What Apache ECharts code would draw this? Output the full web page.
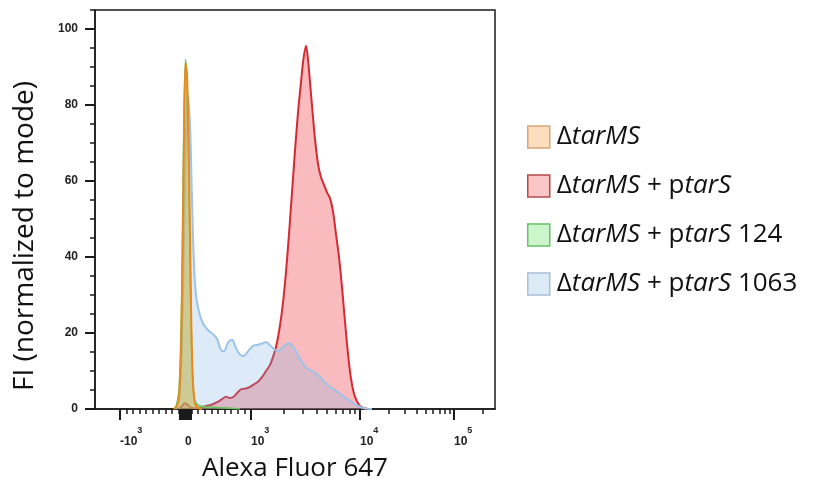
<!DOCTYPE html>
<html>
<head>
<meta charset="utf-8">
<script src="https://cdn.jsdelivr.net/npm/echarts@6/dist/echarts.min.js"></script>
<style>
html, body { margin: 0; padding: 0; background: #fff; }
#container { width: 815px; height: 482px; }
</style>
</head>
<body>
<div id="container"></div>
<script>
// x = display channel on the biexponential scale (0-1000), y = % of mode
var seriesNames = ['ΔtarMS', 'ΔtarMS + ptarS', 'ΔtarMS + ptarS 124', 'ΔtarMS + ptarS 1063'];

var tarMS = [[197.5,0],[205,0.8],[210,3],[215,15],[218.75,40],[222.5,72],[226.25,91],[230,88],[233.75,72],
  [237.5,45],[241.25,20],[245,7],[250,1.5],[257.5,0.3],[267.5,0]];

var tarMSptarS = [[210,0],[217.5,0.8],[225,1.5],[232.5,1],[242.5,0.3],[255,0.2],[265,0.4],[277.5,0.8],
  [292.5,1.2],[305,1.8],[317.5,2.6],[327.5,3.2],[337.5,2.9],[347.5,3.3],[357.5,4.5],[367.5,5.3],[377.5,5.4],
  [387.5,5.8],[397.5,6.5],[407.5,7.2],[417.5,8.4],[427.5,10],[437.5,11.6],[447.5,14.5],[455,17.5],[462.5,22],
  [470,28],[477.5,36],[485,46],[492.5,57],[500,68],[507.5,78],[515,86],[521,92],[527.5,95.6],[532.5,92],
  [537.5,86],[544,78],[550,71],[557.5,64.5],[565,61],[572.5,59],[580,57],[587.5,55.5],[595,52],[602.5,46],
  [610,40],[617.5,32],[625,23],[632.5,14.5],[640,8],[647.5,4],[655,2],[662.5,0.8],[672.5,0.2],[682.5,0]];

var ptarS124 = [[197.5,0],[203.75,1],[210,5],[215,20],[218.75,45],[222.5,78],[226.25,92],[230,86],[233.75,68],
  [237.5,42],[241.25,18],[245,6],[250,2],[262.5,0.8],[287.5,0.5],[325,0.3],[362.5,0]];

var ptarS1063 = [[202.5,0],[212.5,5],[220,30],[226,65],[231,83],[237.5,75],[242.5,55],[247.5,38],[252.5,30],
  [260,25.5],[270,22.5],[282.5,20.8],[295,19.7],[305,18.5],[315,15.5],[322.5,15.2],[332.5,17.5],[342.5,18.2],
  [352.5,16],[362.5,14.3],[372.5,14],[382.5,15.2],[395,16.6],[407.5,16.9],[420,17.3],[427.5,17.6],[437.5,16.8],
  [447.5,15.8],[457.5,15.2],[470,16.3],[482.5,17.3],[492.5,16.8],[502.5,15.2],[512.5,13.2],[525,11.2],
  [537.5,10.3],[550,9.5],[562.5,8.5],[575,7],[587.5,5.8],[602.5,4.8],[617.5,3.6],[632.5,2.5],[647.5,1.4],
  [662.5,0.6],[677.5,0.1],[692.5,0]];

// axis ticks (fluorescence values) and labels
var majorValues = [-1000, 0, 1000, 10000, 100000];
var labelBase = ['-10', '0', '10', '10', '10'];
var labelExp = ['3', '', '3', '4', '5'];
var zeroCluster = [-80, -60, -40, -20, 20, 40, 60, 80];
var minorValues = [-900, -800, -700, -600, -500, -400, -300, -200, -100,
  100, 200, 300, 400, 500, 600, 700, 800, 900,
  2000, 3000, 4000, 5000, 6000, 7000, 8000, 9000,
  20000, 30000, 40000, 50000, 60000, 70000, 80000, 90000, 200000];
var yTicks = [0, 20, 40, 60, 80, 100];
var yMinor = [5, 10, 15, 25, 30, 35, 45, 50, 55, 65, 70, 75, 85, 90, 95, 105];

// biexponential display: linear round 0, log above 10^3
function toChannel(v) {
    if (v < 0) return 225 + v * 0.1625;
    if (v <= 1000) return 225 + v * 0.165;
    if (v <= 10000) return 390 + Math.log10(v / 1000) * 272.5;
    return 662.5 + Math.log10(v / 10000) * 235;
}

var majorPos = majorValues.map(toChannel);
var majorTickPos = majorPos.concat(zeroCluster.map(toChannel));
var minorPos = minorValues.map(toChannel);

function xLabel(value) {
    for (var i = 0; i < majorPos.length; i++) {
        if (Math.abs(majorPos[i] - value) < 0.01) {
            return '{b|' + labelBase[i] + '}' + (labelExp[i] ? '{sup|' + labelExp[i] + '}' : '');
        }
    }
    return '';
}

var legendRich = {
    'ΔtarMS': '{n|Δ}{i|tarMS}',
    'ΔtarMS + ptarS': '{n|Δ}{i|tarMS}{n| + p}{i|tarS}',
    'ΔtarMS + ptarS 124': '{n|Δ}{i|tarMS}{n| + p}{i|tarS}{n| 124}',
    'ΔtarMS + ptarS 1063': '{n|Δ}{i|tarMS}{n| + p}{i|tarS}{n| 1063}'
};

function histSeries(name, data, line, fill, width, z) {
    return {
        name: name, type: 'line', data: data, z: z,
        smooth: 0.3, symbol: 'none', silent: true,
        lineStyle: { color: line, width: width },
        itemStyle: { color: line },
        areaStyle: { color: fill, opacity: 1 },
        emphasis: { disabled: true }
    };
}

var axisColor = '#1a1a1a';
var legendFont = 26;
var chart = echarts.init(document.getElementById('container'));

chart.setOption({
    animation: false,
    backgroundColor: '#fff',
    grid: {
        left: 95, right: 320, top: 10, bottom: 73, outerBoundsMode: 'none', containLabel: false,
        show: true, borderColor: axisColor, borderWidth: 1.5
    },
    xAxis: [{
        type: 'value', min: 0, max: 1000,
        name: 'Alexa Fluor 647', nameLocation: 'middle', nameGap: 47, nameMoveOverlap: false,
        nameTextStyle: { fontFamily: 'Open Sans', fontSize: 26, color: '#111' },
        axisLine: { onZero: false, lineStyle: { color: axisColor, width: 1.5 } },
        axisTick: { customValues: majorTickPos, length: 11, lineStyle: { color: axisColor, width: 2 } },
        axisLabel: {
            customValues: majorPos, formatter: xLabel, margin: 25, align: 'left',
            rich: {
                b: { fontFamily: 'Liberation Sans', fontWeight: 'bold', fontSize: 12, color: '#222', lineHeight: 14, verticalAlign: 'bottom' },
                sup: { fontFamily: 'Liberation Sans', fontWeight: 'bold', fontSize: 9, color: '#222', lineHeight: 10, verticalAlign: 'bottom', padding: [0, 0, 13, 0] }
            }
        },
        splitLine: { show: false }
    }, {
        type: 'value', min: 0, max: 1000, position: 'bottom',
        axisLine: { show: false },
        axisTick: { customValues: minorPos, length: 5, lineStyle: { color: axisColor, width: 1.5 } },
        axisLabel: { show: false },
        splitLine: { show: false }
    }],
    yAxis: [{
        type: 'value', min: 0, max: 105, position: 'left',
        axisLine: { show: true, lineStyle: { color: axisColor, width: 1.5 } },
        axisTick: { show: true, customValues: yTicks, length: 10, lineStyle: { color: axisColor, width: 2 } },
        axisLabel: { customValues: yTicks, margin: 17, fontFamily: 'Liberation Sans', fontWeight: 'bold', fontSize: 12, color: '#222' },
        splitLine: { show: false }
    }, {
        type: 'value', min: 0, max: 105, position: 'left',
        axisLine: { show: false },
        axisTick: { show: true, customValues: yMinor, length: 5, lineStyle: { color: axisColor, width: 1.5 } },
        axisLabel: { show: false },
        splitLine: { show: false }
    }],
    legend: {
        orient: 'vertical', left: 522, top: 118,
        itemWidth: 22, itemHeight: 22, itemGap: 21, icon: 'rect', selectedMode: false,
        data: [
            { name: seriesNames[0], itemStyle: { color: '#FCDDBE', borderColor: '#D7A57A', borderWidth: 1.5 } },
            { name: seriesNames[1], itemStyle: { color: '#F8C6C6', borderColor: '#B5484B', borderWidth: 1.5 } },
            { name: seriesNames[2], itemStyle: { color: '#CCF5CC', borderColor: '#66C266', borderWidth: 1.5 } },
            { name: seriesNames[3], itemStyle: { color: '#DDEBF7', borderColor: '#A8C0D8', borderWidth: 1.5 } }
        ],
        formatter: function (name) { return legendRich[name]; },
        textStyle: {
            fontFamily: 'Open Sans', fontSize: legendFont, color: '#111', lineHeight: 28, padding: [0, 0, 0, 2],
            rich: {
                n: { fontFamily: 'Open Sans', fontSize: legendFont, color: '#111', lineHeight: 28 },
                i: { fontFamily: 'Open Sans', fontSize: legendFont, fontStyle: 'italic', color: '#111', lineHeight: 28 }
            }
        }
    },
    graphic: [{
        type: 'text', x: 25, y: 236, rotation: Math.PI / 2,
        style: { text: 'FI (normalized to mode)', fontFamily: 'Open Sans', fontSize: 28, fill: '#111', align: 'center', verticalAlign: 'middle' }
    }],
    series: [
        histSeries(seriesNames[1], tarMSptarS, '#D42A33', 'rgba(240,60,70,0.35)', 2, 2),
        histSeries(seriesNames[3], ptarS1063, '#9DC3E6', 'rgba(120,175,230,0.25)', 2, 3),
        histSeries(seriesNames[2], ptarS124, '#6DC25B', 'rgba(120,210,100,0.35)', 1.5, 4),
        histSeries(seriesNames[0], tarMS, '#E8891C', 'rgba(240,160,60,0.35)', 2, 5)
    ]
});
</script>
</body>
</html>
